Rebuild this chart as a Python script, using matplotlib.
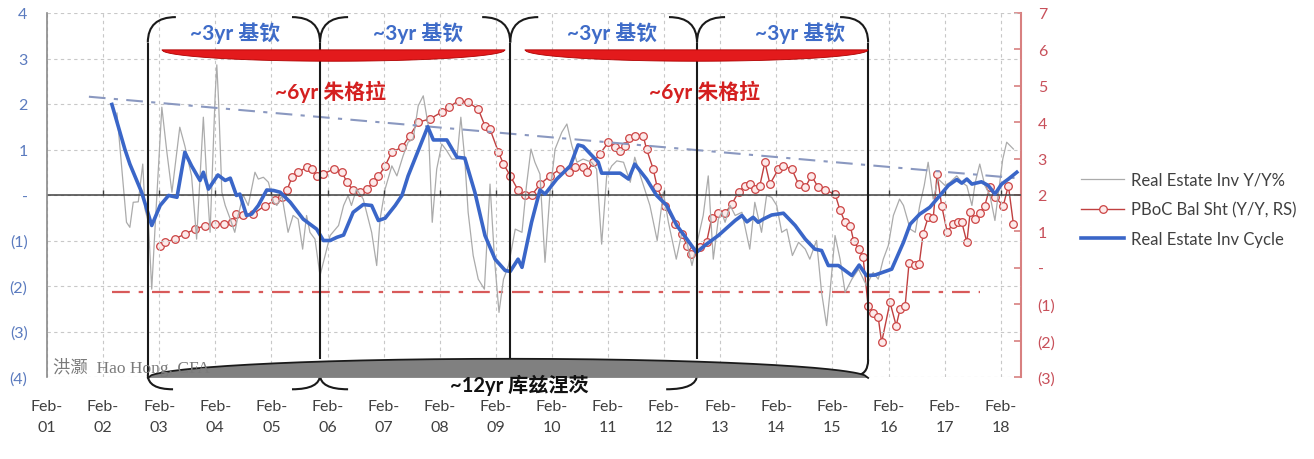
import numpy as np
import matplotlib.pyplot as plt
from matplotlib.path import Path
from matplotlib.patches import PathPatch, Polygon

plt.rcParams['font.family'] = ['Lato', 'Noto Sans CJK SC', 'DejaVu Sans']

# x values are decimal years (Feb-01 = 2001.083)
inv_x = [2002.33, 2002.50, 2002.56, 2002.62, 2002.71, 2002.79, 2002.83, 2002.89, 2002.95, 2003.01,
         2003.13, 2003.22, 2003.31, 2003.45, 2003.54, 2003.66, 2003.75, 2003.87, 2003.93, 2003.99,
         2004.08, 2004.11, 2004.14, 2004.20, 2004.26, 2004.35, 2004.43, 2004.49, 2004.58, 2004.67,
         2004.79, 2004.85, 2004.94, 2005.03, 2005.12, 2005.18, 2005.27, 2005.38, 2005.47, 2005.56,
         2005.64, 2005.71, 2005.77, 2005.86, 2005.95, 2006.04, 2006.13, 2006.28, 2006.37, 2006.45,
         2006.51, 2006.60, 2006.72, 2006.87, 2006.96, 2007.02, 2007.11, 2007.23, 2007.32, 2007.43,
         2007.52, 2007.61, 2007.70, 2007.79, 2007.88, 2007.95, 2008.03, 2008.12, 2008.21, 2008.30,
         2008.39, 2008.46, 2008.53, 2008.59, 2008.68, 2008.77, 2008.88, 2008.98, 2009.06, 2009.14,
         2009.22, 2009.31, 2009.43, 2009.55, 2009.63, 2009.71, 2009.78, 2009.87, 2009.96, 2010.05,
         2010.14, 2010.26, 2010.35, 2010.44, 2010.53, 2010.64, 2010.79, 2010.88, 2010.97, 2011.06,
         2011.15, 2011.24, 2011.36, 2011.48, 2011.56, 2011.65, 2011.83, 2011.96, 2012.07, 2012.16,
         2012.30, 2012.40, 2012.49, 2012.58, 2012.66, 2012.78, 2012.87, 2012.96, 2013.05, 2013.11,
         2013.17, 2013.26, 2013.35, 2013.47, 2013.61, 2013.70, 2013.82, 2013.91, 2014.00, 2014.09,
         2014.18, 2014.27, 2014.37, 2014.48, 2014.60, 2014.68, 2014.80, 2014.89, 2014.98, 2015.04,
         2015.13, 2015.22, 2015.31, 2015.43, 2015.55, 2015.69, 2015.81, 2015.90, 2015.99, 2016.08,
         2016.17, 2016.28, 2016.35, 2016.47, 2016.56, 2016.64, 2016.72, 2016.79, 2016.88, 2016.97,
         2017.09, 2017.18, 2017.30, 2017.39, 2017.48, 2017.57, 2017.63, 2017.71, 2017.80, 2017.89,
         2017.98, 2018.06, 2018.12, 2018.19, 2018.31]
inv_yy = [1.80, -0.60, -0.71, -0.16, -0.15, 0.68, -0.31, -0.60, -2.07, -0.70,
          1.93, 0.94, 0.06, 1.49, 1.08, 0.42, -0.97, 1.71, 0.35, -0.82,
          2.18, 2.86, 2.10, 0.06, -0.23, -0.53, -0.82, -0.45, 0.00, -0.23,
          0.50, 0.35, 0.39, 0.28, -0.16, -0.23, -0.01, -0.82, -0.45, -0.53,
          -1.19, -0.45, -0.82, -0.97, -1.77, -1.33, -0.89, -0.67, -0.23, -0.01,
          -0.23, 0.13, -0.09, -0.82, -1.55, -0.53, 0.13, 0.64, 0.42, 0.86,
          1.16, 1.23, 1.96, 2.18, 1.52, -0.60, 0.57, 1.12, 0.97, 0.79,
          0.79, 1.71, 0.79, -0.38, -1.33, -1.85, -2.07, 0.24, -1.41, -2.58,
          -1.85, -1.55, -0.75, -0.82, 0.21, 1.01, 0.72, 0.46, -1.48, 0.06,
          1.01, 1.38, 1.56, 1.08, 0.72, 0.79, 0.72, 0.57, -1.08, 0.42,
          0.64, 0.75, 0.72, 0.28, 0.83, 0.46, -0.23, -1.00, 0.06, -0.60,
          -1.41, -0.82, -1.04, -1.55, -1.11, -0.45, 0.42, -1.41, -0.53, -0.38,
          -0.60, -0.23, -0.45, -0.38, -1.19, -0.16, -0.82, -0.01, -0.05, -0.23,
          -0.82, -0.75, -1.33, -1.04, -1.19, -1.41, -1.00, -2.14, -2.87, -2.14,
          -0.89, -1.41, -2.14, -1.85, -1.63, -1.99, -1.70, -1.85, -1.41, -1.11,
          -0.45, -0.09, -0.23, -0.75, -0.82, -0.23, 0.21, 0.72, -0.09, 0.35,
          0.21, 0.28, 0.42, 0.28, 0.20, -0.23, 0.28, 0.68, 0.21, 0.00,
          -0.56, 0.21, 0.79, 1.16, 1.01]

pboc_x = [2003.10, 2003.19, 2003.36, 2003.54, 2003.72, 2003.90, 2004.08, 2004.23, 2004.38, 2004.46,
          2004.58, 2004.76, 2004.97, 2005.15, 2005.27, 2005.36, 2005.45, 2005.56, 2005.71, 2005.80,
          2005.89, 2006.01, 2006.19, 2006.34, 2006.43, 2006.54, 2006.66, 2006.78, 2006.90, 2006.99,
          2007.11, 2007.23, 2007.41, 2007.55, 2007.70, 2007.91, 2008.12, 2008.24, 2008.42, 2008.59,
          2008.77, 2008.89, 2008.98, 2009.13, 2009.22, 2009.34, 2009.48, 2009.60, 2009.72, 2009.87,
          2010.05, 2010.23, 2010.38, 2010.50, 2010.64, 2010.70, 2010.82, 2010.94, 2011.09, 2011.21,
          2011.30, 2011.39, 2011.45, 2011.56, 2011.71, 2011.77, 2011.89, 2011.96, 2012.10, 2012.28,
          2012.40, 2012.49, 2012.57, 2012.72, 2012.84, 2012.93, 2013.05, 2013.17, 2013.29, 2013.41,
          2013.53, 2013.61, 2013.70, 2013.79, 2013.88, 2013.97, 2014.12, 2014.21, 2014.36, 2014.48,
          2014.60, 2014.71, 2014.83, 2014.95, 2015.13, 2015.22, 2015.31, 2015.40, 2015.46, 2015.55,
          2015.63, 2015.72, 2015.81, 2015.90, 2015.96, 2016.11, 2016.22, 2016.29, 2016.38, 2016.45,
          2016.56, 2016.63, 2016.70, 2016.79, 2016.88, 2016.95, 2017.03, 2017.13, 2017.23, 2017.33,
          2017.39, 2017.48, 2017.54, 2017.63, 2017.71, 2017.80, 2017.89, 2017.98, 2018.13, 2018.22,
          2018.31]
pboc_yy = [0.61, 0.70, 0.79, 0.93, 1.06, 1.16, 1.20, 1.20, 1.25, 1.48,
           1.44, 1.48, 1.71, 1.85, 1.94, 2.13, 2.49, 2.63, 2.76, 2.71,
           2.53, 2.58, 2.71, 2.63, 2.35, 2.13, 2.08, 2.16, 2.35, 2.51,
           2.80, 3.18, 3.31, 3.63, 4.00, 4.09, 4.28, 4.41, 4.59, 4.55,
           4.36, 3.90, 3.81, 3.18, 2.85, 2.53, 2.13, 1.99, 1.99, 2.29,
           2.53, 2.71, 2.63, 2.76, 2.76, 2.63, 2.90, 3.13, 3.45, 3.31,
           3.21, 3.34, 3.56, 3.63, 3.63, 3.26, 2.71, 2.21, 1.71, 1.20,
           0.93, 0.61, 0.38, 0.56, 0.70, 1.36, 1.50, 1.50, 1.75, 2.08,
           2.26, 2.30, 2.16, 2.26, 2.90, 2.30, 2.71, 2.80, 2.71, 2.30,
           2.21, 2.53, 2.21, 2.13, 2.03, 1.58, 1.25, 1.16, 0.75, 0.51,
           0.29, -1.04, -1.23, -1.36, -2.05, -0.95, -1.59, -1.13, -1.04, 0.14,
           0.08, 0.10, 0.93, 1.39, 1.36, 2.58, 1.71, 0.98, 1.20, 1.26,
           1.25, 0.70, 1.54, 1.34, 1.50, 1.71, 2.21, 1.94, 1.71, 2.26,
           1.20]

cycle_x = [2002.24, 2002.47, 2002.56, 2002.77, 2002.95, 2003.10, 2003.25, 2003.40, 2003.54, 2003.66,
           2003.81, 2003.87, 2003.96, 2004.08, 2004.13, 2004.26, 2004.35, 2004.46, 2004.52, 2004.64,
           2004.73, 2004.85, 2005.00, 2005.12, 2005.24, 2005.42, 2005.65, 2005.89, 2006.01, 2006.13,
           2006.25, 2006.37, 2006.54, 2006.72, 2006.87, 2006.99, 2007.11, 2007.29, 2007.41, 2007.52,
           2007.64, 2007.76, 2007.87, 2007.97, 2008.21, 2008.39, 2008.53, 2008.71, 2008.89, 2009.07,
           2009.25, 2009.34, 2009.48, 2009.55, 2009.72, 2009.87, 2009.96, 2010.17, 2010.41, 2010.55,
           2010.64, 2010.91, 2010.97, 2011.30, 2011.45, 2011.56, 2011.77, 2011.95, 2012.13, 2012.31,
           2012.49, 2012.66, 2012.84, 2013.05, 2013.35, 2013.47, 2013.56, 2013.67, 2013.76, 2013.85,
           2014.00, 2014.21, 2014.42, 2014.60, 2014.77, 2014.89, 2015.01, 2015.19, 2015.43, 2015.56,
           2015.69, 2015.84, 2016.14, 2016.35, 2016.47, 2016.64, 2016.82, 2017.00, 2017.15, 2017.30,
           2017.39, 2017.48, 2017.57, 2017.74, 2017.86, 2017.98, 2018.10, 2018.22, 2018.37]
cycle_val = [1.99, 1.01, 0.68, 0.06, -0.67, -0.23, -0.01, -0.05, 0.94, 0.64,
             0.32, 0.50, 0.13, 0.35, 0.44, 0.32, 0.37, -0.01, 0.02, -0.45,
             -0.42, -0.23, 0.11, 0.10, 0.06, -0.16, -0.53, -0.75, -1.00, -1.00,
             -0.93, -0.88, -0.38, -0.21, -0.23, -0.56, -0.51, -0.23, -0.01, 0.42,
             0.79, 1.16, 1.50, 1.21, 1.21, 0.83, 0.81, 0.06, -0.89, -1.41,
             -1.66, -1.68, -1.41, -1.59, -0.60, 0.11, 0.02, 0.35, 0.64, 1.10,
             1.07, 0.72, 0.48, 0.48, 0.35, 0.68, 0.35, -0.01, -0.23, -0.67,
             -0.97, -1.26, -1.08, -0.89, -0.56, -0.45, -0.59, -0.49, -0.60, -0.53,
             -0.44, -0.40, -0.67, -0.97, -1.19, -1.22, -1.55, -1.55, -1.77, -1.54,
             -1.77, -1.76, -1.63, -1.04, -0.64, -0.42, -0.27, -0.01, 0.21, 0.34,
             0.26, 0.35, 0.24, 0.29, 0.21, 0.02, 0.24, 0.35, 0.50]

trend_x = [2001.83, 2018.37]
trend_val = [2.16, 0.37]
floor_x = [2002.24, 2017.71]
floor_val = [-0.67, -0.67]   # right axis

years = list(range(2001, 2019))
tick_pos = [y + 1 / 12 for y in years]
tick_labels = ['Feb-\n%02d' % (y % 100) for y in years]

left_ticks = [-4, -3, -2, -1, 0, 1, 2, 3, 4]
left_labels = ['(4)', '(3)', '(2)', '(1)', '-', '1', '2', '3', '4']
right_ticks = [-3, -2, -1, 0, 1, 2, 3, 4, 5, 6, 7]
right_labels = ['(3)', '(2)', '(1)', '-', '1', '2', '3', '4', '5', '6', '7']

# cycle boundaries used by the hand-drawn braces
cuts = [2002.88, 2005.95, 2009.34, 2012.67, 2015.72]
kitchin_x = [2004.43, 2007.70, 2011.15, 2014.51]
juglar_x = [2006.13, 2012.81]

fig = plt.figure(figsize=(13.14, 4.6), dpi=100)
ax = fig.add_subplot(111)
fig.subplots_adjust(left=47 / 1314, right=1021 / 1314, top=1 - 14 / 460, bottom=1 - 378 / 460)
ax2 = ax.twinx()
ax.set_zorder(ax2.get_zorder() + 1)
ax.patch.set_visible(False)

# series
l1, = ax.plot(inv_x, inv_yy, color='#ababab', lw=0.9, label='Real Estate Inv Y/Y%', zorder=2)
l2, = ax2.plot(pboc_x, pboc_yy, color='#c04040', lw=1.0, marker='o', ms=5.5,
               mfc='#fdeaea', mec='#cc4444', mew=0.9, label='PBoC Bal Sht (Y/Y, RS)')
ax2.plot(floor_x, floor_val, color='#d85a5a', lw=1.6, ls=(0, (8, 4, 2, 4)))
l3, = ax.plot(cycle_x, cycle_val, color='#3a66c8', lw=2.6, label='Real Estate Inv Cycle', zorder=4)
ax.plot(trend_x, trend_val, color='#8a98c0', lw=1.5, ls=(0, (8, 4, 2, 4)), zorder=3)

ax.axhline(0, color='#404040', lw=1.1, zorder=2)
ax.vlines(tick_pos[1:], 0, 0.12, color='#404040', lw=1, zorder=2)

ax.set_xlim(2001.083, 2018.445)
ax.set_ylim(-4, 4)
ax2.set_ylim(-3, 7)
ax.set_xticks(tick_pos)
ax.set_xticklabels(tick_labels, linespacing=1.65)
ax.set_yticks(left_ticks)
ax.set_yticklabels(left_labels)
ax2.set_yticks(right_ticks)
ax2.set_yticklabels(right_labels)

ax.grid(True, color='#c8c8c8', ls=(0, (3, 3)), lw=0.8)
ax.set_axisbelow(True)
for s in ['top', 'bottom', 'right']:
    ax.spines[s].set_visible(False)
ax.spines['left'].set_color('#8a8a8a')
ax.spines['left'].set_linewidth(1.2)
for s in ['top', 'bottom', 'left']:
    ax2.spines[s].set_visible(False)
ax2.spines['right'].set_color('#d88080')
ax2.spines['right'].set_linewidth(1.5)

ax.tick_params(axis='x', length=0, pad=16, labelsize=11.5, labelcolor='#404040')
ax.tick_params(axis='y', length=0, pad=14, labelsize=11.5, labelcolor='#5b7bbf')
ax2.tick_params(axis='y', direction='in', length=5, width=1.2, color='#d88080',
                labelsize=11.5, labelcolor='#c8505a', pad=12)


def arc(p0, c, p1, **kw):
    path = Path([p0, c, p1], [Path.MOVETO, Path.CURVE3, Path.CURVE3])
    ax.add_patch(PathPatch(path, fill=False, clip_on=False, zorder=6, **kw))


brace = dict(color='#1a1a1a', lw=1.5)
ytop, ycusp, dx = 3.91, 3.35, 0.5
ybot, ybcusp = -4.27, -3.95

# top braces (Kitchin cycles)
arc((cuts[0], ycusp), (cuts[0], ytop), (cuts[0] + dx, ytop), **brace)
for c in cuts[1:4]:
    arc((c - dx, ytop), (c, ytop), (c, ycusp), **brace)
    arc((c + dx, ytop), (c, ytop), (c, ycusp), **brace)
arc((cuts[4] - dx, ytop), (cuts[4], ytop), (cuts[4], ycusp), **brace)

# vertical separators
ax.vlines(cuts[0], ybcusp, ycusp, color='#1a1a1a', lw=1.5, zorder=6)
ax.vlines(cuts[1:4], -3.6, ycusp, color='#1a1a1a', lw=1.5, zorder=6)
ax.vlines(cuts[4], -3.62, ycusp, color='#1a1a1a', lw=1.5, zorder=6)

# bottom brace pieces
arc((cuts[0], ybcusp), (cuts[0], ybot), (cuts[0] + 0.45, ybot), **brace)
arc((cuts[1] - 0.5, ybot), (cuts[1], ybot), (cuts[1], ybcusp), **brace)
arc((cuts[1] + 0.5, ybot), (cuts[1], ybot), (cuts[1], ybcusp), **brace)
arc((cuts[3] - 0.55, ybot), (cuts[3], ybot), (cuts[3], ybcusp), **brace)
arc((cuts[4], -3.62), (cuts[4], -3.97), (cuts[4] - 0.25, -3.97), **brace)

# grey Kuznets lens
t = np.linspace(-1, 1, 200)
cx, hw = (cuts[0] + cuts[4]) / 2, (cuts[4] - cuts[0]) / 2
lens_top = -4.02 + 0.42 * np.sqrt(1 - t ** 2)
ax.add_patch(Polygon(np.column_stack([cx + hw * t, lens_top]), closed=True,
                     facecolor='#808080', edgecolor='none', clip_on=False, zorder=7))
ax.plot(cx + hw * t, lens_top, color='#1a1a1a', lw=1.3, clip_on=False, zorder=7)

# red Juglar lenses
for a, b in [(2003.13, 2009.25), (2009.60, 2015.72)]:
    jc, jw = (a + b) / 2, (b - a) / 2
    yb = 3.19 - 0.25 * np.sqrt(1 - t ** 2)
    ax.add_patch(Polygon(np.column_stack([np.r_[jc + jw * t, jc + jw * t[::-1]],
                                          np.r_[yb, np.full_like(t, 3.19)]]),
                         closed=True, facecolor='#e31a1c', edgecolor='#b00000', lw=0.6,
                         clip_on=False, zorder=6))

for x in kitchin_x:
    ax.text(x, 3.58, '~3yr 基钦', ha='center', va='center', fontsize=15,
            fontweight='bold', color='#3f6cc8', zorder=8)
for x in juglar_x:
    ax.text(x, 2.29, '~6yr 朱格拉', ha='center', va='center', fontsize=15,
            fontweight='bold', color='#d42020', zorder=8)
ax.text(2009.51, -4.17, '~12yr 库兹涅茨', ha='center', va='center', fontsize=14.5,
        fontweight='bold', color='#111111', zorder=8, clip_on=False)
ax.text(2001.19, -3.78, '洪灏  Hao Hong, CFA', ha='left', va='center', fontsize=12.5,
        color='#7a7a7a', family=['Liberation Serif', 'Noto Sans CJK SC'], zorder=8)

fig.legend(handles=[l1, l2, l3], loc='upper left', bbox_to_anchor=(1066 / 1314, 1 - 158 / 460),
           frameon=False, fontsize=12, handlelength=2.6, labelspacing=0.8,
           labelcolor='#404040', handletextpad=0.4)

fig.savefig('out.png', dpi=100)
